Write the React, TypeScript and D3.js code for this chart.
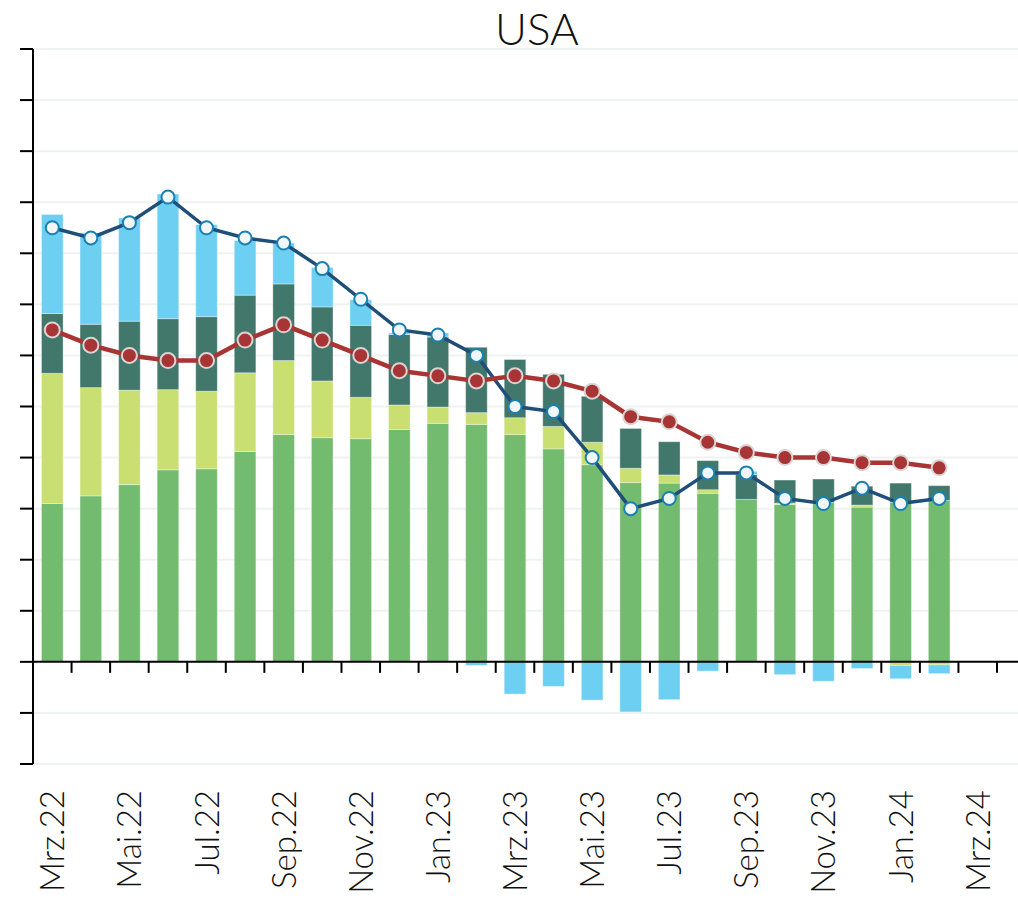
import * as d3 from 'd3';

// months shown on the x axis (last one has no data)
const months = [
  'Mrz.22', 'Apr.22', 'Mai.22', 'Jun.22', 'Jul.22', 'Aug.22', 'Sep.22', 'Okt.22',
  'Nov.22', 'Dez.22', 'Jan.23', 'Feb.23', 'Mrz.23', 'Apr.23', 'Mai.23', 'Jun.23',
  'Jul.23', 'Aug.23', 'Sep.23', 'Okt.23', 'Nov.23', 'Dez.23', 'Jan.24', 'Feb.24', 'Mrz.24',
];

// stacked contributions (percentage points)
const green = [3.1, 3.25, 3.47, 3.76, 3.78, 4.12, 4.45, 4.39, 4.37, 4.55, 4.67, 4.65, 4.45, 4.17, 3.86, 3.51, 3.5, 3.3, 3.18, 3.08, 3.12, 3.03, 3.12, 3.16];
const lightGreen = [2.55, 2.12, 1.85, 1.57, 1.52, 1.54, 1.45, 1.11, 0.81, 0.48, 0.32, 0.23, 0.33, 0.44, 0.44, 0.28, 0.16, 0.07, 0, 0.03, 0, 0.04, -0.07, -0.06];
const teal = [1.17, 1.24, 1.35, 1.39, 1.46, 1.52, 1.5, 1.45, 1.41, 1.38, 1.37, 1.28, 1.14, 1.02, 0.9, 0.78, 0.65, 0.57, 0.49, 0.45, 0.46, 0.37, 0.38, 0.29];
const lightBlue = [1.94, 1.79, 2.02, 2.44, 1.8, 1.07, 0.8, 0.77, 0.5, 0.03, 0.08, -0.07, -0.63, -0.48, -0.75, -0.98, -0.74, -0.18, 0.06, -0.25, -0.38, -0.13, -0.26, -0.17];

// lines
const headline = [8.5, 8.3, 8.6, 9.1, 8.5, 8.3, 8.2, 7.7, 7.1, 6.5, 6.4, 6.0, 5.0, 4.9, 4.0, 3.0, 3.2, 3.7, 3.7, 3.2, 3.1, 3.4, 3.1, 3.2];
const core = [6.5, 6.2, 6.0, 5.9, 5.9, 6.3, 6.6, 6.3, 6.0, 5.7, 5.6, 5.5, 5.6, 5.5, 5.3, 4.8, 4.7, 4.3, 4.1, 4.0, 4.0, 3.9, 3.9, 3.8];

const yTicks = d3.range(-2, 13, 1);
const labelMonths = months.filter((_, i) => i % 2 === 0);

const keys = ['green', 'lightGreen', 'teal', 'lightBlue'];
const colors = {
  green: '#72bb6f',
  lightGreen: '#c9df72',
  teal: '#41786b',
  lightBlue: '#6dcff2',
};

const W = 1018;
const H = 913;
const left = 33;
const right = 1018;

export default function App() {
  const x = d3.scaleBand()
    .domain(months)
    .range([left, 997])
    .paddingInner(0.44)
    .paddingOuter(0.22);

  const y = d3.scaleLinear().domain([-2, 12]).range([764, 49]);

  const rows = green.map((g, i) => ({
    month: months[i],
    green: g,
    lightGreen: lightGreen[i],
    teal: teal[i],
    lightBlue: lightBlue[i],
  }));

  const series = d3.stack()
    .keys(keys)
    .offset(d3.stackOffsetDiverging)(rows);

  const cx = (i) => x(months[i]) + x.bandwidth() / 2;
  const line = d3.line().x((d, i) => cx(i)).y(d => y(d));

  const step = x.step();
  const boundaries = d3.range(1, months.length + 1).map(k => left + k * step);

  return (
    <svg width={W} height={H} style={{ display: 'block', position: 'absolute', left: 0, top: 0 }}>
      <rect width={W} height={H} fill="#fff" />
      <text x={537} y={45} textAnchor="middle" fontFamily="Lato, 'Open Sans', sans-serif" fontWeight={300} fontSize={44} fill="#111">USA</text>

      {/* gridlines */}
      {yTicks.filter(t => t !== 0).map(t => (
        <line key={t} x1={left} x2={right} y1={y(t)} y2={y(t)} stroke="#eef3f2" strokeWidth={2} />
      ))}

      {/* bars */}
      {series.map(s => (
        <g key={s.key} fill={colors[s.key]}>
          {s.map((d, i) => {
            const y0 = y(Math.max(d[0], d[1]));
            const y1 = y(Math.min(d[0], d[1]));
            if (y1 - y0 < 0.2) return null;
            return (
              <rect key={i} x={x(months[i])} y={y0} width={x.bandwidth()} height={y1 - y0}
                stroke="rgba(255,255,255,0.35)" strokeWidth={1} />
            );
          })}
        </g>
      ))}

      {/* y axis */}
      <line x1={left} x2={left} y1={y(12)} y2={y(-2)} stroke="#000" strokeWidth={2} />
      {yTicks.map(t => (
        <line key={t} x1={20} x2={left} y1={y(t)} y2={y(t)} stroke="#000" strokeWidth={2} />
      ))}

      {/* zero axis with month ticks */}
      <line x1={left} x2={right} y1={y(0)} y2={y(0)} stroke="#000" strokeWidth={2} />
      {boundaries.map((b, k) => (
        <line key={k} x1={b} x2={b} y1={y(0)} y2={y(0) + 11} stroke="#000" strokeWidth={2} />
      ))}

      {/* headline line */}
      <path d={line(headline)} fill="none" stroke="#1f4e79" strokeWidth={3.5} />
      {/* core line */}
      <path d={line(core)} fill="none" stroke="#a93434" strokeWidth={4.5} />
      {core.map((v, i) => (
        <circle key={i} cx={cx(i)} cy={y(v)} r={7.5} fill="#a83535" stroke="#dcd3d3" strokeWidth={2} />
      ))}
      {headline.map((v, i) => (
        <circle key={i} cx={cx(i)} cy={y(v)} r={6.5} fill="#f1f6f8" stroke="#1a80b2" strokeWidth={2} />
      ))}

      {/* x labels */}
      {labelMonths.map(m => {
        const c = x(m) + x.bandwidth() / 2;
        return (
          <text key={m} transform={`translate(${c + 12},790) rotate(-90)`} textAnchor="end"
            fontFamily="Lato, 'Open Sans', sans-serif" fontWeight={300} fontSize={33} fill="#111">
            {m}
          </text>
        );
      })}
    </svg>
  );
}
